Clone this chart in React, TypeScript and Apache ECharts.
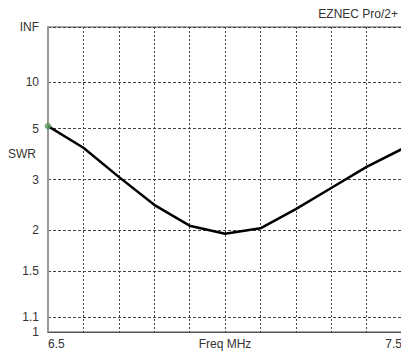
import React, { useEffect, useRef } from "react";
import * as echarts from "echarts";

const freqs = [6.5, 6.6, 6.7, 6.8, 6.9, 7.0, 7.1, 7.2, 7.3, 7.4, 7.5];
const swrValues = [5.15, 4.05, 3.07, 2.43, 2.07, 1.95, 2.03, 2.35, 2.79, 3.36, 4.0];
const swrTicks = [1, 1.1, 1.5, 2, 3, 5, 10, Infinity];
const swrTickLabels = ["1", "1.1", "1.5", "2", "3", "5", "10", "INF"];
const xLabels = ["6.5", "7.5"];

// SWR chart scale: reflection coefficient rho = (SWR-1)/(SWR+1)
const rho = (s: number) => (s === Infinity ? 1 : (s - 1) / (s + 1));

const FONT = "'Liberation Sans', Arial, sans-serif";

export default function App() {
  const ref = useRef<HTMLDivElement>(null);
  useEffect(() => {
    const chart = echarts.init(ref.current!, null, { renderer: "svg" });
    const tickVals = swrTicks.map(rho);
    const labelFor = (v: number) => {
      let best = 0;
      tickVals.forEach((t, i) => {
        if (Math.abs(t - v) < Math.abs(tickVals[best] - v)) best = i;
      });
      return swrTickLabels[best];
    };
    chart.setOption({
      animation: false,
      backgroundColor: "#fff",
      grid: {
        left: 48,
        right: -1,
        top: 27,
        bottom: 19,
        outerBoundsMode: "none",
        containLabel: false,
        show: true,
        borderColor: "#555",
        borderWidth: 1,
      },
      xAxis: {
        type: "value",
        min: 6.5,
        max: 7.5,
        interval: 0.1,
        name: "Freq MHz",
        nameLocation: "middle",
        nameGap: 6,
        nameMoveOverlap: false,
        nameTextStyle: { fontFamily: FONT, fontSize: 12, color: "#333", verticalAlign: "top" },
        axisLine: { show: true, lineStyle: { color: "#555", width: 1 } },
        axisTick: { show: false },
        axisLabel: {
          show: true,
          margin: 6,
          fontFamily: FONT,
          fontSize: 12,
          color: "#333",
          alignMinLabel: "left",
          alignMaxLabel: "right",
          formatter: (v: number) => {
            const s = v.toFixed(1);
            return xLabels.includes(s) ? s : "";
          },
        },
        splitLine: { show: true, lineStyle: { color: "#444", type: [2, 2], width: 1 } },
      },
      yAxis: {
        type: "value",
        min: 0,
        max: 1,
        axisLine: { show: true, lineStyle: { color: "#999", width: 2 } },
        axisTick: { show: false, customValues: tickVals },
        axisLabel: {
          show: true,
          customValues: tickVals,
          margin: 9,
          fontFamily: FONT,
          fontSize: 12,
          color: "#333",
          formatter: (v: number) => labelFor(v),
        },
        splitLine: { show: true, lineStyle: { color: "#444", type: [3, 2], width: 1 } },
      },
      graphic: [
        {
          type: "text",
          right: 3,
          top: 8,
          style: { text: "EZNEC Pro/2+", fontFamily: FONT, fontSize: 12, fill: "#333" },
        },
        {
          type: "text",
          left: 8,
          top: 148,
          style: { text: "SWR", fontFamily: FONT, fontSize: 12, fill: "#333" },
        },
      ],
      series: [
        {
          type: "line",
          data: freqs.map((f, i) => [f, rho(swrValues[i])]),
          symbol: "none",
          lineStyle: { color: "#000", width: 2.5 },
          z: 3,
        },
        {
          type: "scatter",
          data: [[freqs[0], rho(swrValues[0])]],
          symbol: "circle",
          symbolSize: 6,
          itemStyle: { color: "#5fa060", borderColor: "#3d7a3d", borderWidth: 0.5 },
          z: 4,
        },
      ],
    });
    return () => chart.dispose();
  }, []);
  return (
    <div
      ref={ref}
      style={{ position: "absolute", left: 0, top: 0, width: 401, height: 351 }}
    />
  );
}
